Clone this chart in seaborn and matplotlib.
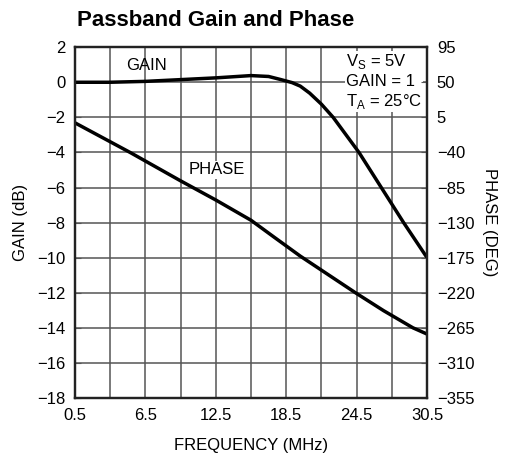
import pandas as pd
import matplotlib
matplotlib.use("Agg")
import matplotlib.pyplot as plt
import seaborn as sns

# Datos
freq_gain = [0.5, 3.5, 6.5, 9.5, 12.5, 15.5, 17.0, 18.0, 19.0, 19.7, 20.5,
             21.5, 22.5, 23.6, 24.7, 25.65, 26.6, 27.55, 28.5, 29.5, 30.5]
gain_db = [0.0, 0.0, 0.05, 0.15, 0.25, 0.38, 0.33, 0.16, -0.02, -0.22, -0.62,
           -1.25, -2.0, -3.0, -4.0, -5.0, -6.0, -7.0, -8.0, -9.0, -10.0]

freq_phase = [0.5, 5.2, 9.45, 12.5, 15.5, 17.5, 19.7, 22.2, 24.4, 26.8, 29.3, 30.5]
phase_deg = [-2, -40, -76, -101, -127, -149, -173, -198, -220, -243, -265, -273]

x_ticks = [0.5, 6.5, 12.5, 18.5, 24.5, 30.5]
gain_ticks = [2, 0, -2, -4, -6, -8, -10, -12, -14, -16, -18]
phase_ticks = [95, 50, 5, -40, -85, -130, -175, -220, -265, -310, -355]

df_gain = pd.DataFrame({"freq": freq_gain, "gain": gain_db})
df_phase = pd.DataFrame({"freq": freq_phase, "phase": phase_deg})

sns.set_style("white")
plt.rcParams["font.family"] = ["Liberation Sans", "DejaVu Sans"]
plt.rcParams["text.color"] = "black"
plt.rcParams["axes.labelcolor"] = "black"
plt.rcParams["xtick.color"] = "black"
plt.rcParams["ytick.color"] = "black"

fig = plt.figure(figsize=(5.06, 4.58), dpi=100)
ax = fig.add_axes([0.148, 0.131, 0.696, 0.766])
ax2 = ax.twinx()

sns.lineplot(data=df_gain, x="freq", y="gain", ax=ax, color="black", lw=2.5)
sns.lineplot(data=df_phase, x="freq", y="phase", ax=ax2, color="black", lw=2.5)

ax.set_xlim(0.5, 30.5)
ax.set_ylim(-18, 2)
ax2.set_ylim(-355, 95)
ax.set_xticks(x_ticks)
ax.set_xticks([x + 3 for x in x_ticks[:-1]], minor=True)
ax.set_xticklabels([str(x) for x in x_ticks])
ax.set_yticks(gain_ticks)
ax2.set_yticks(phase_ticks)

ax.grid(True, which="both", axis="x", color="#555555", lw=1.1)
ax.grid(True, which="major", axis="y", color="#555555", lw=1.1)
ax.set_axisbelow(True)

for a in (ax, ax2):
    a.tick_params(direction="in", length=4, labelsize=12, color="#555555", pad=7)
    a.tick_params(which="minor", length=0)
    for s in a.spines.values():
        s.set_color("#222222")
        s.set_linewidth(1.6)

ax.set_xlabel("FREQUENCY (MHz)", fontsize=12, labelpad=11)
ax.set_ylabel("GAIN (dB)", fontsize=12, labelpad=6)
ax2.set_ylabel("PHASE (DEG)", fontsize=12, rotation=270, labelpad=16)

ax.text(6.6, 0.95, "GAIN", fontsize=12, ha="center", va="center")
ax.text(12.6, -5.0, "PHASE", fontsize=12, ha="center", va="center",
        bbox=dict(facecolor="white", edgecolor="none", pad=1))
ax.text(23.6, 1.7, "V$_\\mathregular{S}$ = 5V\nGAIN = 1\nT$_\\mathregular{A}$ = 25°C",
        fontsize=12, ha="left", va="top", linespacing=1.2,
        bbox=dict(facecolor="white", edgecolor="none", pad=1))

fig.text(0.152, 0.955, "Passband Gain and Phase", fontsize=16, fontweight="bold",
         ha="left", va="center")

fig.savefig("out.png", dpi=100)
